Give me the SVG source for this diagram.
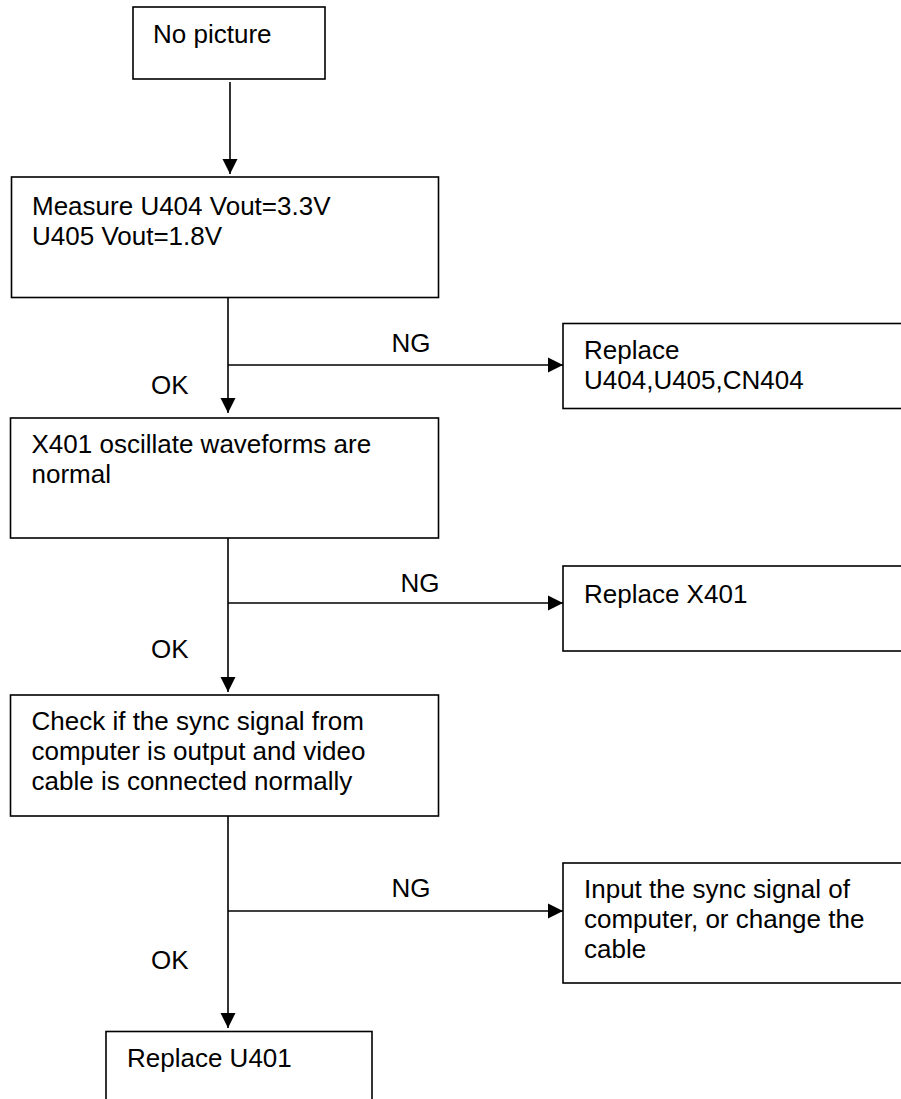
<svg xmlns="http://www.w3.org/2000/svg" width="901" height="1099" viewBox="0 0 901 1099">
<style>
.box{fill:#fff;stroke:#000;stroke-width:1.6}
.t{font-family:"Liberation Sans",Arial,sans-serif;font-size:26px;fill:#000}
.c{fill:none;stroke:#000;stroke-width:1.6}
.m{text-anchor:middle}
</style>
<defs>
<marker id="ah" markerUnits="userSpaceOnUse" markerWidth="16" markerHeight="16" viewBox="0 0 16 16" refX="15" refY="8" orient="auto">
<path d="M0,0.5 L15,8 L0,15.5 Z" fill="#000"/>
</marker>
</defs>
<rect width="901" height="1099" fill="#fff"/>
<g id="connectors">
<line class="c" x1="230" y1="82" x2="230" y2="174" marker-end="url(#ah)"/>
<line class="c" x1="228" y1="298" x2="228" y2="413" marker-end="url(#ah)"/>
<line class="c" x1="228" y1="365" x2="563" y2="365" marker-end="url(#ah)"/>
<line class="c" x1="228" y1="538" x2="228" y2="692" marker-end="url(#ah)"/>
<line class="c" x1="228" y1="603" x2="563" y2="603" marker-end="url(#ah)"/>
<line class="c" x1="228" y1="816" x2="228" y2="1028" marker-end="url(#ah)"/>
<line class="c" x1="228" y1="911" x2="563" y2="911" marker-end="url(#ah)"/>
<text class="t m" x="411" y="352">NG</text>
<text class="t" x="151" y="394">OK</text>
<text class="t m" x="420" y="592">NG</text>
<text class="t" x="151" y="658">OK</text>
<text class="t m" x="411" y="897">NG</text>
<text class="t" x="151" y="969">OK</text>
</g>
<g id="n1">
<rect class="box" x="133" y="7" width="192" height="72"/>
<text class="t" x="153" y="43">No picture</text>
</g>
<g id="n2">
<rect class="box" x="11.5" y="177" width="427" height="120.5"/>
<text class="t" x="32" y="215">Measure U404 Vout=3.3V</text>
<text class="t" x="32" y="245">U405 Vout=1.8V</text>
</g>
<g id="n3">
<rect class="box" x="563" y="323.5" width="350" height="85"/>
<text class="t" x="584" y="359">Replace</text>
<text class="t" x="584" y="389">U404,U405,CN404</text>
</g>
<g id="n4">
<rect class="box" x="10.5" y="418" width="428" height="120"/>
<text class="t" x="31.5" y="453">X401 oscillate waveforms are</text>
<text class="t" x="31.5" y="483">normal</text>
</g>
<g id="n5">
<rect class="box" x="563" y="566" width="350" height="85"/>
<text class="t" x="584" y="603">Replace X401</text>
</g>
<g id="n6">
<rect class="box" x="10.5" y="695" width="428" height="121"/>
<text class="t" x="31.5" y="730">Check if the sync signal from</text>
<text class="t" x="31.5" y="760">computer is output and video</text>
<text class="t" x="31.5" y="790">cable is connected normally</text>
</g>
<g id="n7">
<rect class="box" x="563" y="863" width="350" height="120"/>
<text class="t" x="584" y="898">Input the sync signal of</text>
<text class="t" x="584" y="928">computer, or change the</text>
<text class="t" x="584" y="958">cable</text>
</g>
<g id="n8">
<rect class="box" x="106" y="1031.5" width="266" height="90"/>
<text class="t" x="127" y="1067">Replace U401</text>
</g>
</svg>
